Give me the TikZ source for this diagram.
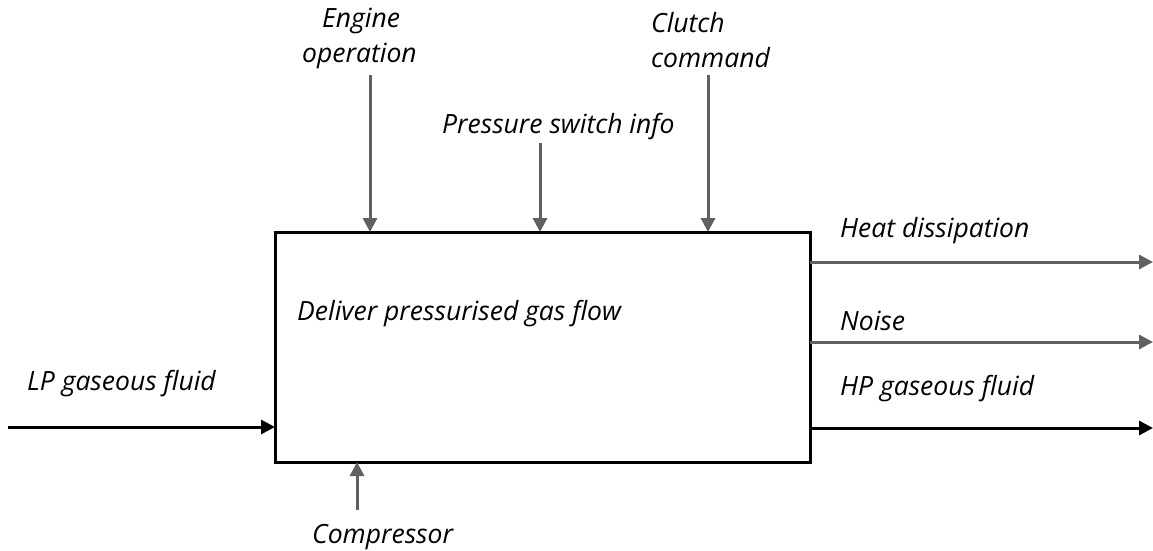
\documentclass[tikz,border=0pt]{standalone}
\usepackage{fontspec}
\setmainfont{Open Sans}
\usetikzlibrary{arrows.meta}
\definecolor{flowgray}{HTML}{606060}
\begin{document}
\begin{tikzpicture}[x=1pt,y=-1pt,
  lbl/.style={font=\itshape\fontsize{26.5}{35}\selectfont, inner sep=0pt, anchor=base west},
  flow/.style={line width=3pt, -{Triangle[length=14pt,width=14pt]}},
  ctrl/.style={flow, draw=flowgray},
  main/.style={flow, draw=black}]
\useasboundingbox (0,0) rectangle (1153,550);
\node[draw=black, line width=3pt, minimum width=535pt, minimum height=230pt, inner sep=0pt] (box) at (542.5,347) {};
\node[lbl] (boxtxt) at (297,320) {Deliver pressurised gas flow};
% controls
\coordinate (eng0) at (370,75);
\coordinate (eng1) at (370,232);
\draw[ctrl] (eng0) -- (eng1);
\node[lbl] (engtxt1) at (322,27) {Engine};
\node[lbl] (engtxt2) at (302,62) {operation};
\coordinate (ps0) at (540,143);
\coordinate (ps1) at (540,232);
\draw[ctrl] (ps0) -- (ps1);
\node[lbl] (pstxt) at (442,133) {Pressure switch info};
\coordinate (cl0) at (708,75);
\coordinate (cl1) at (708,232);
\draw[ctrl] (cl0) -- (cl1);
\node[lbl] (cltxt1) at (651,32) {Clutch};
\node[lbl] (cltxt2) at (651,67) {command};
% mechanism
\coordinate (cp0) at (357,510);
\coordinate (cp1) at (357,462);
\draw[ctrl] (cp0) -- (cp1);
\node[lbl] (cptxt) at (312,543) {Compressor};
% input
\coordinate (lp0) at (8,427);
\coordinate (lp1) at (275,427);
\draw[main] (lp0) -- (lp1);
\node[lbl] (lptxt) at (27,390) {LP gaseous fluid};
% outputs
\coordinate (hd0) at (810,262);
\coordinate (hd1) at (1153,262);
\draw[ctrl] (hd0) -- (hd1);
\node[lbl] (hdtxt) at (840,237) {Heat dissipation};
\coordinate (no0) at (810,342);
\coordinate (no1) at (1153,342);
\draw[ctrl] (no0) -- (no1);
\node[lbl] (notxt) at (840,330) {Noise};
\coordinate (hp0) at (810,428);
\coordinate (hp1) at (1153,428);
\draw[main] (hp0) -- (hp1);
\node[lbl] (hptxt) at (840,395) {HP gaseous fluid};
\end{tikzpicture}
\end{document}
